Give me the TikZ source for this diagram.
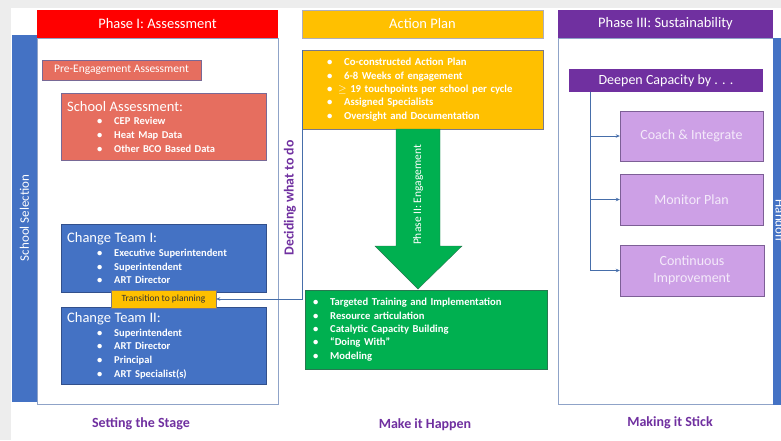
\documentclass[tikz,border=0pt]{standalone}
\usepackage{fontspec}
\setmainfont{Carlito}
\usepackage{tikz}
\usetikzlibrary{arrows.meta}
\usetikzlibrary{positioning}

\definecolor{phasered}{RGB}{255,0,0}
\definecolor{salmon}{RGB}{230,110,95}
\definecolor{salmonedge}{RGB}{120,105,150}
\definecolor{offblue}{RGB}{68,114,196}
\definecolor{blueedge}{RGB}{50,80,140}
\definecolor{plangold}{RGB}{255,192,0}
\definecolor{goldedge}{RGB}{120,120,140}
\definecolor{offgreen}{RGB}{0,176,80}
\definecolor{greenedge}{RGB}{40,120,80}
\definecolor{phasepurple}{RGB}{112,48,160}
\definecolor{lilac}{RGB}{205,160,230}
\definecolor{lilacedge}{RGB}{125,95,150}
\definecolor{lilactext}{RGB}{244,234,250}
\definecolor{paneledge}{RGB}{143,163,200}
\definecolor{linkblue}{RGB}{70,110,170}

\newcommand{\listitem}[2][30pt]{\hspace*{#1}\makebox[17pt][l]{\textbullet}#2}

\tikzset{
  phasehead/.style={minimum width=#1, minimum height=28pt, inner sep=0pt, text=white, font=\fontsize{14.5}{16}\selectfont},
  strip/.style={fill=offblue, minimum width=367pt, minimum height=#1, inner sep=0pt, text=white, font=\fontsize{13}{15}\selectfont},
  listbox/.style={anchor=north west, minimum width=#1, text width=#1-12pt, inner xsep=6pt, inner ysep=3pt, align=left, text=white, font=\fontsize{10.5}{13.6}\selectfont\bfseries},
  lilacbox/.style={draw=lilacedge, fill=lilac, minimum width=143pt, minimum height=50pt, text=lilactext, align=center, font=\fontsize{14}{17}\selectfont},
  link/.style={draw=linkblue, line width=0.8pt, -{Stealth[length=4pt,width=3.5pt]}},
  stage/.style={text=phasepurple, font=\fontsize{14}{16}\selectfont\bfseries}
}

\begin{document}
\begin{tikzpicture}[x=1pt,y=-1pt]
    \useasboundingbox (0,0) rectangle (781,440);
    \clip (0,0) rectangle (781,440);

    \fill[black!7] (0,0) rectangle (781,440);
    \fill[white] (11,8) rectangle (781,440);

    \draw[paneledge, line width=0.8pt] (37,38) rectangle (278,404);
    \draw[paneledge, line width=0.8pt] (558,38) rectangle (773,404);

    \node[strip=25pt, rotate=90] (selstrip) at (24.5,218) {School Selection};
    \node[strip=14pt, rotate=-90] (handoff) at (780,221) {Handoff};

    \node[phasehead=241pt, fill=phasered] (p1head) at (157.5,24) {Phase I: Assessment};
    \node[phasehead=241pt, fill=plangold, draw=goldedge!60] (aphead) at (422.5,24) {Action Plan};
    \node[phasehead=215pt, fill=phasepurple] (p3head) at (665.5,24) {Phase III: Sustainability};

    \node[draw=salmonedge, fill=salmon, minimum width=159pt, minimum height=20pt, text=white, font=\fontsize{11.5}{13}\selectfont] (preeng) at (121.5,70) {Pre-Engagement Assessment};

    \node[listbox=205pt, draw=salmonedge, fill=salmon, minimum height=67pt] (schoolass) at (61,93)
        {{\fontsize{14.5}{16}\selectfont\mdseries School Assessment:}\\
         \listitem{CEP Review}\\
         \listitem{Heat Map Data}\\
         \listitem{Other BCO Based Data}};

    \node[listbox=205pt, draw=blueedge, fill=offblue, minimum height=68pt] (team1) at (61,224)
        {{\fontsize{14.5}{16}\selectfont\mdseries Change Team I:}\\
         \listitem{Executive Superintendent}\\
         \listitem{Superintendent}\\
         \listitem{ART Director}};

    \node[listbox=205pt, draw=blueedge, fill=offblue, minimum height=77pt] (team2) at (61,307)
        {{\fontsize{14.5}{16}\selectfont\mdseries Change Team II:}\\
         \listitem{Superintendent}\\
         \listitem{ART Director}\\
         \listitem{Principal}\\
         \listitem{ART Specialist(s)}};

    \node[draw=goldedge, fill=plangold, minimum width=105pt, minimum height=18pt, inner sep=0pt, text=black!80, font=\fontsize{9.5}{11}\selectfont] (trans) at (163.5,299) {Transition to planning};

    \node[listbox=241pt, draw=goldedge, fill=plangold, minimum height=79pt, inner xsep=5pt, text width=231pt, font=\fontsize{10.7}{13.3}\selectfont\bfseries] (actbox) at (302,50)
        {\listitem[20pt]{Co-constructed Action Plan}\\
         \listitem[20pt]{6-8 Weeks of engagement}\\
         \hspace*{20pt}\makebox[11pt][l]{\textbullet}$\geq$ 19 touchpoints per school per cycle\\
         \listitem[20pt]{Assigned Specialists}\\
         \listitem[20pt]{Oversight and Documentation}};

    \draw[draw=greenedge, fill=offgreen] (396,129) -- (396,246) -- (375,246) -- (418,289) -- (462,246) -- (440,246) -- (440,129) -- cycle;
    \node[rotate=90, text=white, font=\fontsize{11.5}{13}\selectfont] (engage) at (418,195) {Phase II: Engagement};

    \node[listbox=242pt, draw=greenedge, fill=offgreen, minimum height=79pt, inner xsep=5pt, text width=232pt, font=\fontsize{10.6}{13.4}\selectfont\bfseries] (greenbox) at (305,290)
        {\listitem[3pt]{Targeted Training and Implementation}\\
         \listitem[3pt]{Resource articulation}\\
         \listitem[3pt]{Catalytic Capacity Building}\\
         \listitem[3pt]{``Doing With''}\\
         \listitem[3pt]{Modeling}};

    \draw[link] (actbox.north west) |- (trans.east);
    \node[rotate=90, text=phasepurple, font=\fontsize{13.8}{15}\selectfont\bfseries] (decide) at (290,198) {Deciding what to do};

    \node[fill=phasepurple, minimum width=194pt, minimum height=23pt, inner sep=0pt, text=white, font=\fontsize{14}{16}\selectfont] (deepen) at (666,80.5) {Deepen Capacity by . . .};
    \node[lilacbox] (coach) at (691.5,136) {Coach \& Integrate};
    \node[lilacbox, minimum height=51pt] (monitor) at (691.5,199.5) {Monitor Plan};
    \node[lilacbox, minimum width=144pt, minimum height=51pt] (contimp) at (692,270.5) {Continuous\\Improvement};

    \foreach \b in {coach,monitor,contimp}
        \draw[link] ([xshift=22pt]deepen.south west) |- (\b.west);

    \node[stage] (stage1) at (141,424) {Setting the Stage};
    \node[stage] (stage2) at (425,425) {Make it Happen};
    \node[stage] (stage3) at (670,423) {Making it Stick};
\end{tikzpicture}
\end{document}
